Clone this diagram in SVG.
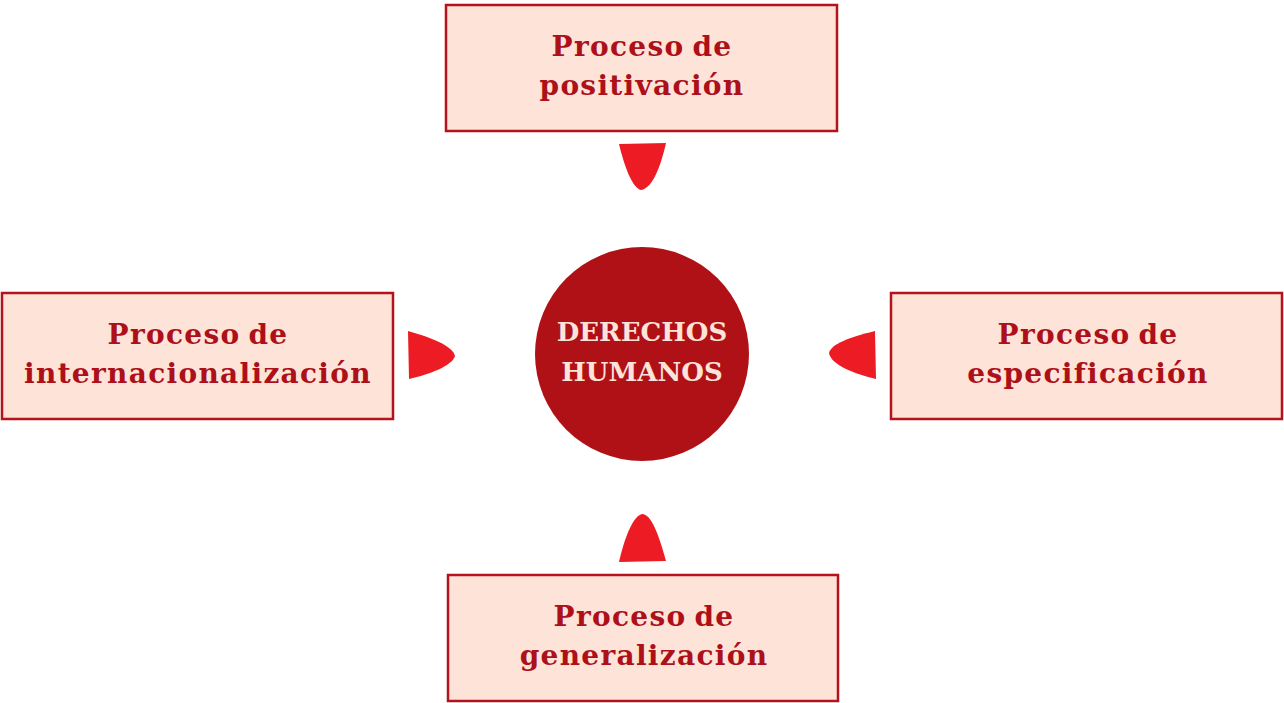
<svg xmlns="http://www.w3.org/2000/svg" width="1284" height="703" viewBox="0 0 1284 703">
<style>
.box{fill:#fde3d8;stroke:#b5121b;stroke-width:2.5}
.lbl{font-family:"DejaVu Serif",serif;font-weight:bold;font-size:28px;fill:#ad1018;text-anchor:middle;letter-spacing:1.3px;word-spacing:-3px}
.ctr{font-family:"DejaVu Serif",serif;font-weight:bold;font-size:26px;fill:#fde3d8;text-anchor:middle}
.arr{fill:#ed1c24}
</style>
<rect width="1284" height="703" fill="#ffffff"/>
<g id="connectors">
<path class="arr" d="M619,144 L666,143 C661,165 653,188 641,190 C632,188 624,165 619,144 Z"/>
<path class="arr" d="M619,562 C624,540 633,514 643,514 C653,516 660,540 666,561 Z"/>
<path class="arr" d="M408,331 C430,337 453,346 455,356 C452,366 430,374 409,379 Z"/>
<path class="arr" d="M875,331 L876,379 C855,374 831,365 829,353 C831,344 850,337 875,331 Z"/>
</g>
<g id="node-positivacion">
<rect class="box" x="446" y="5" width="391" height="126"/>
<text class="lbl" x="642" y="56">Proceso de</text>
<text class="lbl" x="642" y="95">positivación</text>
</g>
<g id="node-internacionalizacion">
<rect class="box" x="2" y="293" width="391" height="126"/>
<text class="lbl" x="198" y="344">Proceso de</text>
<text class="lbl" x="198" y="383">internacionalización</text>
</g>
<g id="node-especificacion">
<rect class="box" x="891" y="293" width="391" height="126"/>
<text class="lbl" x="1088" y="344">Proceso de</text>
<text class="lbl" x="1088" y="383">especificación</text>
</g>
<g id="node-generalizacion">
<rect class="box" x="448" y="575" width="390" height="126"/>
<text class="lbl" x="644" y="626">Proceso de</text>
<text class="lbl" x="644" y="665">generalización</text>
</g>
<g id="node-derechos">
<circle cx="642" cy="354" r="107" fill="#b01117"/>
<text class="ctr" x="642" y="341">DERECHOS</text>
<text class="ctr" x="642" y="381">HUMANOS</text>
</g>
</svg>
